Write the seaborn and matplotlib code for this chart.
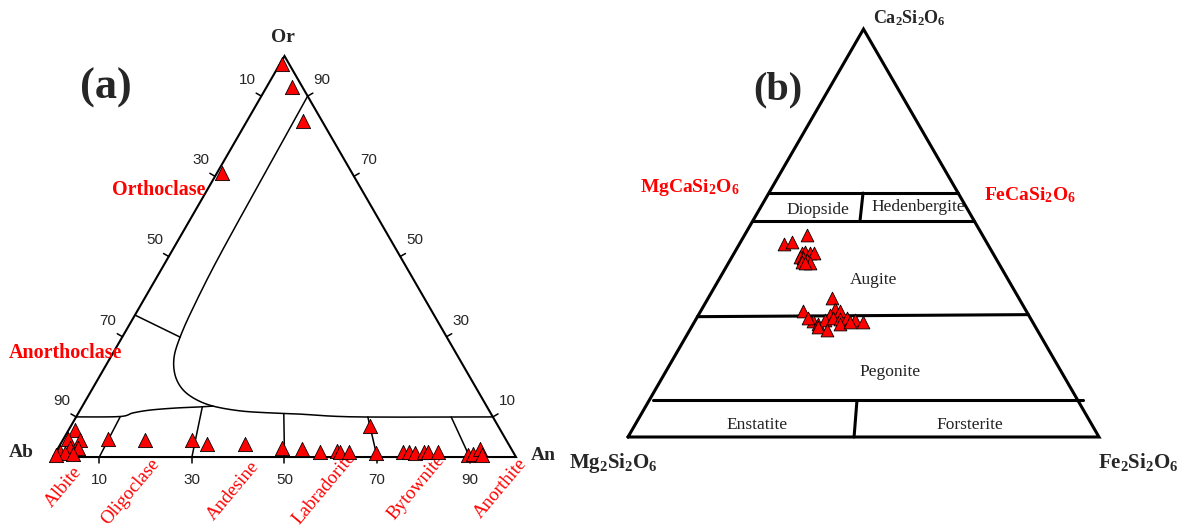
import numpy as np
import pandas as pd
import matplotlib
matplotlib.use("Agg")
import matplotlib.pyplot as plt
import seaborn as sns

# ---------------- Feldspar analyses (mol %), Ab = 100 - An - Or ----------------
fsp_an = [0.5, 5.5, 12.1, 1.1, 1.4, 1.0, 3.7, 2.6, 4.3, 0.9, 2.1, 4.0, 0.3,
          9.6, 17.8, 27.9, 31.7, 39.9, 48.3, 52.8, 57.1, 60.6, 61.4, 63.3,
          64.6, 69.3, 75.0, 76.3, 77.7, 79.5, 80.4, 82.6, 89.4, 90.4, 91.2, 92.4]
fsp_or = [98.0, 92.3, 83.8, 70.8, 6.7, 4.5, 4.2, 2.2, 2.2, 1.2, 1.0, 0.7, 0.5,
          4.5, 4.2, 4.2, 3.2, 3.2, 2.2, 2.0, 1.2, 1.5, 1.2, 1.2,
          7.7, 1.0, 1.2, 1.2, 1.0, 1.2, 1.2, 1.2, 0.5, 0.7, 2.0, 0.5]

# ---------------- Pyroxene analyses (mol %), En = 100 - Wo - Fs ----------------
px_wo = [47.3, 47.8, 49.5, 45.1, 45.3, 45.1, 45.1, 44.1, 43.9, 43.4, 42.9, 42.6, 42.6,
         34.1, 30.9, 31.4, 30.9, 29.9, 28.4, 27.7, 28.7, 29.2, 28.9, 29.2, 28.7,
         28.2, 27.0, 26.2, 27.7, 29.2, 28.2]
px_fs = [9.5, 10.9, 13.3, 14.4, 14.9, 16.1, 16.9, 14.5, 15.2, 16.3, 15.5, 17.3, 16.3,
         26.3, 21.7, 28.3, 29.6, 27.9, 25.1, 26.5, 27.5, 28.9, 30.6, 31.9, 33.9,
         35.8, 26.9, 29.1, 31.2, 23.6, 33.0]

# ---------------- Feldspar field boundaries (An, Or in %) ----------------
solvus_an = [10.0, 10.4, 10.9, 11.7, 12.5, 13.7, 16.1, 19.4, 23.4, 28.2, 34.7, 41.4, 48.0, 60.7, 90.0]
solvus_or = [90.0, 69.6, 49.1, 36.7, 29.9, 24.9, 20.5, 17.0, 14.5, 12.7, 11.5, 11.0, 10.7, 10.0, 10.0]
ab_side_an = [0.0, 9.4, 11.8, 15.1, 20.2, 25.5, 28.2]
ab_side_or = [10.0, 10.1, 11.0, 11.7, 12.2, 12.5, 12.7]
anorthoclase_an = [0.0, 12.5]
anorthoclase_or = [35.4, 29.9]
plag_top_an = [9.5, 26.0, 44.5, 63.0, 81.0]
plag_top_or = [10.0, 12.5, 10.7, 10.0, 10.0]
plag_base_an = [10, 30, 50, 70, 90]

plag_names = ["Albite", "Oligoclase", "Andesine", "Labradorite", "Bytownite", "Anorthite"]
tick_values = [10, 30, 50, 70, 90]

# ---------------- Pyroxene field boundaries (Wo, Fs in %) ----------------
pyx_lines = [
    ([59.8, 59.8], [0.0, 40.2]),
    ([52.9, 52.9], [0.0, 47.1]),
    ([59.8, 52.9], [20.0, 22.8]),
    ([29.5, 30.0], [0.0, 70.0]),
    ([9.07, 9.07], [0.8, 92.1]),
    ([8.8, 0.0], [44.2, 48.0]),
]
pyx_names = ["Diopside", "Hedenbergite", "Augite", "Pegonite", "Enstatite", "Forsterite"]

H = np.sqrt(3) / 2


def tern(right, top):
    """Ternary (%, %) -> cartesian in a unit-side triangle."""
    r = np.asarray(right, float) / 100.0
    t = np.asarray(top, float) / 100.0
    return r + 0.5 * t, H * t


def smooth(x, y, n=12):
    """Catmull-Rom curve through the given vertices."""
    P = np.column_stack([x, y])
    P = np.vstack([P[0], P, P[-1]])
    out = []
    for i in range(1, len(P) - 2):
        p0, p1, p2, p3 = P[i - 1], P[i], P[i + 1], P[i + 2]
        for t in np.linspace(0, 1, n, endpoint=False):
            t2, t3 = t * t, t * t * t
            out.append(0.5 * ((2 * p1) + (-p0 + p2) * t + (2 * p0 - 5 * p1 + 4 * p2 - p3) * t2
                              + (-p0 + 3 * p1 - 3 * p2 + p3) * t3))
    out.append(P[-2])
    out = np.array(out)
    return out[:, 0], out[:, 1]


sns.set_theme(style="white")
plt.rcParams["font.family"] = ["Liberation Serif", "DejaVu Serif"]
plt.rcParams["mathtext.fontset"] = "custom"
plt.rcParams["mathtext.rm"] = "Liberation Serif"
plt.rcParams["mathtext.bf"] = "Liberation Serif:bold"
plt.rcParams["mathtext.it"] = "Liberation Serif:italic"

fig = plt.figure(figsize=(11.88, 5.28), dpi=100)
ax_a = fig.add_axes([0, 0, 0.5, 1])
ax_b = fig.add_axes([0.5, 0, 0.5, 1])
ax_a.set_xlim(-0.1145, 1.1685)
ax_a.set_ylim(-0.1533, 0.9870)
ax_b.set_xlim(-0.0722, 1.1890)
ax_b.set_ylim(-0.1932, 0.9278)
for ax in (ax_a, ax_b):
    ax.set_axis_off()

RED = "#ff0000"

# ======================= (a) feldspar =======================
tri_x = [0, 1, 0.5, 0]
tri_y = [0, 0, H, 0]
ax_a.plot(tri_x, tri_y, color="black", lw=1.5, solid_joinstyle="miter", zorder=2)

for xs, ys in [(solvus_an, solvus_or), (ab_side_an, ab_side_or)]:
    cx, cy = tern(xs, ys)
    sx, sy = smooth(cx, cy)
    ax_a.plot(sx, sy, color="black", lw=1.1, zorder=2)
cx, cy = tern(anorthoclase_an, anorthoclase_or)
ax_a.plot(cx, cy, color="black", lw=1.1, zorder=2)
for a_top, o_top, a_bot in zip(plag_top_an, plag_top_or, plag_base_an):
    cx, cy = tern([a_top, a_bot], [o_top, 0])
    ax_a.plot(cx, cy, color="black", lw=1.1, zorder=2)

# ticks and tick labels
tl = 6 / 463
for v in tick_values:
    # base (An)
    x0, y0 = tern(v, 0)
    ax_a.plot([x0, x0], [y0, y0 - tl], color="black", lw=1.1)
    ax_a.text(x0, y0 - 0.050, str(v), ha="center", va="center",
              fontsize=11, family="Liberation Sans")
    # left edge (Ab)
    x0, y0 = tern(0, 100 - v)
    ax_a.plot([x0, x0 - 0.866 * tl], [y0, y0 + 0.5 * tl], color="black", lw=1.1)
    ax_a.text(x0 - 0.031, y0 + 0.035, str(v), ha="center", va="center",
              fontsize=11, family="Liberation Sans")
    # right edge (Or)
    x0, y0 = tern(100 - v, v)
    ax_a.plot([x0, x0 + 0.866 * tl], [y0, y0 + 0.5 * tl], color="black", lw=1.1)
    ax_a.text(x0 + 0.031, y0 + 0.035, str(v), ha="center", va="center",
              fontsize=11, family="Liberation Sans")

fx, fy = tern(fsp_an, fsp_or)
df_a = pd.DataFrame({"x": fx, "y": fy})
sns.scatterplot(data=df_a, x="x", y="y", marker="^", s=105, color=RED,
                edgecolor="black", linewidth=0.6, ax=ax_a, zorder=5, legend=False)

ax_a.text(0.4968, 0.905, "Or", ha="center", va="center", fontsize=14, fontweight="bold")
ax_a.text(-0.069, 0.009, "Ab", ha="center", va="center", fontsize=14, fontweight="bold")
ax_a.text(1.058, 0.003, "An", ha="center", va="center", fontsize=14, fontweight="bold")
ax_a.text(0.1145, 0.797, "(a)", ha="center", va="center", fontsize=32, fontweight="bold")
ax_a.text(0.229, 0.577, "Orthoclase", ha="center", va="center", fontsize=14.4,
          fontweight="bold", color=RED)
ax_a.text(0.026, 0.225, "Anorthoclase", ha="center", va="center", fontsize=14.4,
          fontweight="bold", color=RED)

name_pos = [(0.0562, -0.0267), (0.2225, -0.0073), (0.4384, -0.0138),
            (0.6480, 0.0060), (0.8402, -0.0008), (1.0173, -0.0073)]
for name, (x, y) in zip(plag_names, name_pos):
    ax_a.text(x, y, name, rotation=50, rotation_mode="anchor", ha="right", va="center",
              fontsize=13.6, color=RED)

# ======================= (b) pyroxene =======================
ax_b.plot(tri_x, tri_y, color="black", lw=2.2, solid_joinstyle="miter", zorder=2)
for wo, fs in pyx_lines:
    cx, cy = tern(fs, wo)
    ax_b.plot(cx, cy, color="black", lw=2.2, zorder=2)

gx, gy = tern(px_fs, px_wo)
df_b = pd.DataFrame({"x": gx, "y": gy})
sns.scatterplot(data=df_b, x="x", y="y", marker="^", s=85, color=RED,
                edgecolor="black", linewidth=0.6, ax=ax_b, zorder=5, legend=False)

name_pos_b = [(0.4034, 0.482), (0.6157, 0.4883), (0.5223, 0.3333),
              (0.5563, 0.138), (0.2739, 0.0255), (0.7261, 0.0255)]
for name, (x, y) in zip(pyx_names, name_pos_b):
    ax_b.text(x, y, name, ha="center", va="center", fontsize=12.5, color="#222222")

ax_b.text(0.3185, 0.7367, "(b)", ha="center", va="center", fontsize=29, fontweight="bold")
ax_b.text(0.520, 0.8896, r"$\mathbf{Ca_2Si_2O_6}$", ha="left", va="center", fontsize=13)
ax_b.text(0.1316, 0.5287, r"$\mathbf{MgCaSi_2O_6}$", ha="center", va="center",
          fontsize=14, color=RED)
ax_b.text(0.8535, 0.5138, r"$\mathbf{FeCaSi_2O_6}$", ha="center", va="center",
          fontsize=14, color=RED)
ax_b.text(-0.0318, -0.0552, r"$\mathbf{Mg_2Si_2O_6}$", ha="center", va="center", fontsize=15)
ax_b.text(1.0828, -0.0531, r"$\mathbf{Fe_2Si_2O_6}$", ha="center", va="center", fontsize=15)

fig.savefig("out.png", dpi=100, facecolor="white")
